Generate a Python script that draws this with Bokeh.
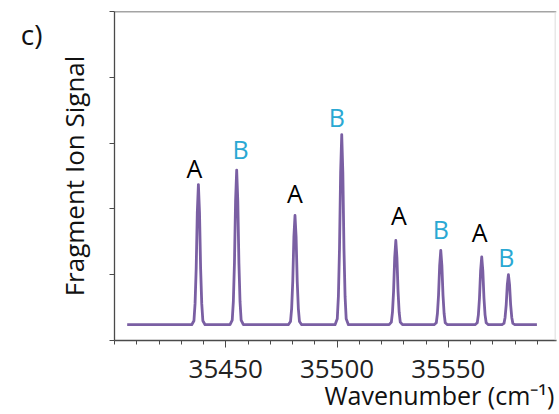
from bokeh.plotting import figure
from bokeh.models import Range1d, FixedTicker, Span, ColumnDataSource, LinearAxis
from bokeh.core.properties import value
from bokeh.embed import file_html
from bokeh.resources import INLINE

FONT = "Open Sans"

# Spectrum trace (wavenumber in cm-1, signal in y-tick units)
wavenumber = [
    35405.7,
    35434.7, 35435.7, 35436.2, 35436.7, 35437.2, 35437.7, 35438.2, 35438.7, 35439.2, 35439.7, 35440.7,
    35451.9, 35452.9, 35453.4, 35453.9, 35454.4, 35454.9, 35455.4, 35455.9, 35456.4, 35456.9, 35457.9,
    35478.1, 35479.1, 35479.6, 35480.1, 35480.6, 35481.1, 35481.6, 35482.1, 35482.6, 35483.1, 35484.1,
    35499.1, 35500.1, 35500.6, 35501.1, 35501.6, 35502.1, 35502.6, 35503.1, 35503.6, 35504.1, 35505.1,
    35523.4, 35524.4, 35524.9, 35525.4, 35525.9, 35526.4, 35526.9, 35527.4, 35527.9, 35528.4, 35529.4,
    35543.6, 35544.6, 35545.1, 35545.6, 35546.1, 35546.6, 35547.1, 35547.6, 35548.1, 35548.6, 35549.6,
    35562.0, 35563.0, 35563.5, 35564.0, 35564.5, 35565.0, 35565.5, 35566.0, 35566.5, 35567.0, 35568.0,
    35574.0, 35575.0, 35575.5, 35576.0, 35576.5, 35577.0, 35577.5, 35578.0, 35578.5, 35579.0, 35580.0,
    35589.8,
]
signal = [
    0.24,
    0.24, 0.30, 0.56, 1.09, 1.94, 2.37, 1.94, 1.09, 0.56, 0.30, 0.24,
    0.24, 0.31, 0.59, 1.18, 2.12, 2.59, 2.12, 1.18, 0.59, 0.31, 0.24,
    0.24, 0.29, 0.49, 0.90, 1.57, 1.90, 1.57, 0.90, 0.49, 0.29, 0.24,
    0.24, 0.33, 0.67, 1.40, 2.55, 3.13, 2.55, 1.40, 0.67, 0.33, 0.24,
    0.24, 0.28, 0.43, 0.75, 1.26, 1.52, 1.26, 0.75, 0.43, 0.28, 0.24,
    0.24, 0.27, 0.41, 0.69, 1.14, 1.37, 1.14, 0.69, 0.41, 0.27, 0.24,
    0.24, 0.27, 0.39, 0.65, 1.06, 1.27, 1.06, 0.65, 0.39, 0.27, 0.24,
    0.24, 0.26, 0.35, 0.54, 0.85, 1.00, 0.85, 0.54, 0.35, 0.26, 0.24,
    0.24,
]

# Peak assignments
peak_letters = ["A", "B", "A", "B", "A", "B", "A", "B"]
peak_centers = [35437.7, 35454.9, 35481.1, 35502.1, 35526.4, 35546.6, 35565.0, 35577.0]
peak_tops = [2.37, 2.59, 1.90, 3.13, 1.52, 1.37, 1.27, 1.00]

# Axis ticks
x_major_ticks = [35450, 35500, 35550]
x_minor_ticks = list(range(35400, 35601, 10))
y_ticks = [0, 1, 2, 3, 4, 5]

LINE_COLOR = "#7a5fa3"
B_COLOR = "#2aa8d3"
AXIS_COLOR = "#4a4a4a"
TEXT_COLOR = "#111111"
NBSP = "\u00a0"

X0, X1 = 35400, 35598.6
Y0, Y1 = 0, 5
FRAME_W, FRAME_H = 442, 329

p = figure(width=559, height=414, output_backend="svg", toolbar_location=None,
           x_range=Range1d(X0, X1), y_range=Range1d(Y0, Y1),
           min_border_left=114, min_border_right=3, min_border_top=11, min_border_bottom=74)
p.outline_line_color = None
p.grid.visible = False
p.background_fill_color = "white"
p.border_fill_color = "white"

p.line(wavenumber, signal, line_color=LINE_COLOR, line_width=2.8, line_join="round")

# peak labels: small pixel nudges from the peak apex, converted to data units
label_dx_px = [-4, 4, 0, -5, 3, 0, -2, -2]
label_gap_px = [17, 21, 22, 18, 25, 21, 25, 18]
px_x = (X1 - X0) / FRAME_W
px_y = (Y1 - Y0) / FRAME_H
src = ColumnDataSource(dict(
    x=[c + d * px_x for c, d in zip(peak_centers, label_dx_px)],
    y=[t + g * px_y for t, g in zip(peak_tops, label_gap_px)],
    text=peak_letters,
    color=["black" if t == "A" else B_COLOR for t in peak_letters],
))
p.text(x="x", y="y", text="text", source=src, text_color="color",
       text_font=value(FONT), text_font_size="25px", text_align="center",
       text_baseline="alphabetic")

# x axis
xa = p.xaxis[0]
xa.ticker = FixedTicker(ticks=x_major_ticks, minor_ticks=x_minor_ticks)
xa.major_label_text_font = FONT
xa.major_label_text_font_size = "26px"
xa.major_label_text_color = "#222222"
xa.major_label_standoff = 12
xa.major_tick_in = 0
xa.major_tick_out = 7
xa.minor_tick_in = 0
xa.minor_tick_out = 4
xa.axis_line_color = AXIS_COLOR
xa.axis_line_width = 1.3
xa.major_tick_line_color = AXIS_COLOR
xa.minor_tick_line_color = AXIS_COLOR
# title sits right-aligned under the axis: leading no-break spaces push it right
xa.axis_label = NBSP * 32 + "Wavenumber (cm\u207b\u00b9)"
xa.axis_label_text_font = FONT
xa.axis_label_text_font_size = "25px"
xa.axis_label_text_font_style = "normal"
xa.axis_label_text_color = TEXT_COLOR
xa.axis_label_standoff = -3

# y axis: ticks only (drawn as minor ticks so no tick labels exist)
ya = p.yaxis[0]
ya.ticker = FixedTicker(ticks=[], minor_ticks=y_ticks)
ya.minor_tick_in = 0
ya.minor_tick_out = 5
ya.minor_tick_line_color = AXIS_COLOR
ya.axis_line_color = AXIS_COLOR
ya.axis_line_width = 1.3
ya.axis_label = "Fragment Ion Signal"
ya.axis_label_text_font = FONT
ya.axis_label_text_font_size = "26px"
ya.axis_label_text_font_style = "normal"
ya.axis_label_text_color = TEXT_COLOR
ya.axis_label_standoff = 18

# panel letter as the label of an outer, bare left axis
pa = LinearAxis(ticker=FixedTicker(ticks=[], minor_ticks=[]), axis_line_color=None,
                axis_label=NBSP + "\nc)", axis_label_orientation="horizontal",
                axis_label_text_font=FONT, axis_label_text_font_size="28px",
                axis_label_text_font_style="normal", axis_label_text_color=TEXT_COLOR,
                axis_label_standoff=10)
pa.axis_label_align = "end"
p.add_layout(pa, "left")

# frame top line and faint right edge
p.add_layout(Span(location=5, dimension="width", line_color=AXIS_COLOR, line_width=1.3))
p.add_layout(Span(location=35598, dimension="height", line_color="#dddddd", line_width=1))

open("out.html", "w").write(file_html(p, INLINE))
